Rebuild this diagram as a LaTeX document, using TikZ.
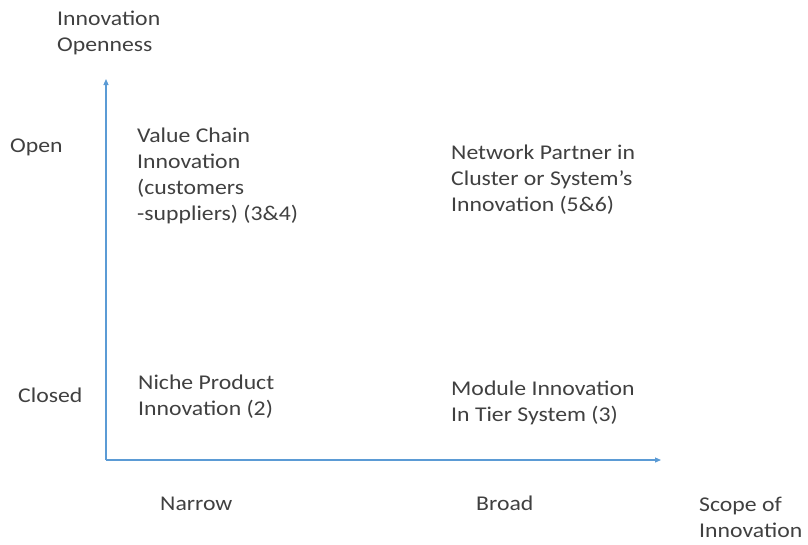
\documentclass[tikz,border=0pt]{standalone}
\usepackage{fontspec}
\setmainfont{Carlito}[FakeStretch=1.13]
\usetikzlibrary{arrows.meta}
\definecolor{axisblue}{RGB}{91,155,213}
\definecolor{txt}{RGB}{64,64,64}
\begin{document}
\begin{tikzpicture}[x=1pt,y=-1pt,
  lbl/.style={anchor=base west,inner sep=0pt,align=left,text=txt,font=\fontsize{21}{26}\selectfont},
  axis/.style={draw=axisblue,line width=1.1pt,-{Triangle[length=6pt,width=5pt]}}]
\useasboundingbox (0,0) rectangle (808,544);
\coordinate (O) at (106,460);
\coordinate (ytip) at (106,79);
\coordinate (xtip) at (661,460);
\draw[axis] (O) -- (ytip);
\draw[axis] (O) -- (xtip);
\node[lbl] (yl) at (57,51) {Innovation\\Openness};
\node[lbl] (open) at (10,152) {Open};
\node[lbl] (closed) at (18,402) {Closed};
\node[lbl] (vc) at (137,220) {Value Chain\\Innovation\\(customers\\-suppliers) (3\&4)};
\node[lbl] (np) at (451,211) {Network Partner in\\Cluster or System’s\\Innovation (5\&6)};
\node[lbl] (niche) at (138,415) {Niche Product\\Innovation (2)};
\node[lbl] (mod) at (451,421) {Module Innovation\\In Tier System (3)};
\node[lbl] (narrow) at (160,510) {Narrow};
\node[lbl] (broad) at (476,510) {Broad};
\node[lbl] (scope) at (699,537) {Scope of\\Innovation};
\end{tikzpicture}
\end{document}
